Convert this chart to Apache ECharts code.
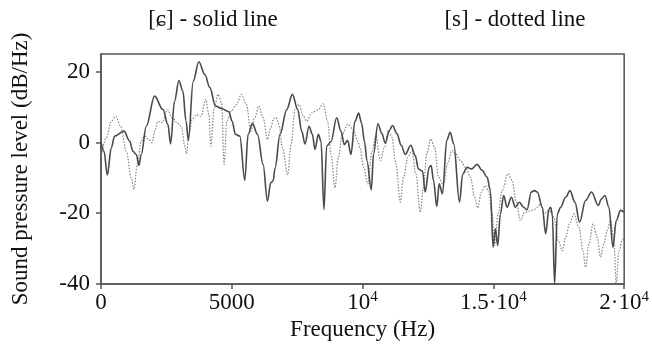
<!DOCTYPE html>
<html>
<head>
<meta charset="utf-8">
<script src="https://cdn.jsdelivr.net/npm/echarts@6/dist/echarts.min.js"></script>
<style>
  html, body { margin: 0; padding: 0; background: #fff; }
  #main { width: 652px; height: 347px; }
</style>
</head>
<body>
<div id="main"></div>
<script>
// spectrum of [ɕ] (solid) and [s] (dotted)
var solidFreq = [0, 115, 242, 394, 522, 878, 1094, 1221, 1349, 1450, 1539, 1730, 2049, 2367, 2557, 2660, 2812, 2977, 3130, 3250, 3340,
    3524, 3741, 3970, 4161, 4377, 4607, 4886, 5012, 5140, 5306, 5497, 5624, 5790, 5981, 6196, 6363, 6489, 6578, 6655, 6844,
    7100, 7317, 7519, 7672, 7799, 7952, 8080, 8180, 8309, 8410, 8524, 8627, 8792, 9009, 9173, 9302, 9428, 9555, 9707, 9850,
    9960, 10080, 10165, 10332, 10420, 10585, 10737, 10867, 11020, 11145, 11310, 11477, 11630, 11845, 12012, 12138, 12290,
    12393, 12546, 12622, 12710, 12837, 12928, 13054, 13218, 13348, 13485, 13703, 13829, 13997, 14161, 14379, 14569, 14760,
    14886, 14989, 15077, 15165, 15268, 15394, 15523, 15688, 15840, 15993, 16157, 16287, 16451, 16577, 16680, 16871, 16998,
    17127, 17188, 17253, 17341, 17444, 17570, 17761, 17929, 18120, 18295, 18524, 18753, 19009, 19135, 19265, 19417, 19570,
    19696, 19860, 20000];
var solidDb = [0.2, -2.5, -9.2, -1.5, 1.8, 3.2, 0.4, -2.5, -3.4, -6.5, -3.4, 4.6, 13.1, 9.3, 5.1, -0.4, 11.7, 17.5, 14.5, 6.0, 0.6,
    17.3, 22.8, 19.2, 15.5, 10.3, 9.6, 8.7, 6.0, 2.3, 1.8, -10.7, 2.3, 5.4, 2.3, -6.2, -16.6, -11.4, -10.9, -7.2, 2.3,
    9.3, 13.6, 9.3, 3.2, -0.4, 4.6, 2.3, -2.0, 2.3, 0.4, -19.0, -1.0, 0.2, 7.0, 3.2, -0.6, 0.6, -3.4, 6.0, 8.3,
    5.5, 0, -5.1, -13.4, -3.2, 5.3, 2.5, -0.2, 3.4, 4.8, 2.5, -0.8, -3.4, -0.8, -3.7, -7.5, -8.1,
    -14.0, -7.0, -6.5, -10.7, -18.1, -11.7, -14.5, 0.6, 2.9, -0.4, -16.9, -8.9, -7.0, -7.5, -6.2, -7.9, -9.8,
    -13.6, -29.6, -24.4, -29.1, -20.2, -15.0, -18.3, -15.5, -18.3, -16.9, -18.3, -19.0, -14.0, -13.6, -14.0, -18.3, -25.8,
    -18.8, -18.3, -20.2, -40, -20.2, -18.3, -15.5, -13.6, -16.9, -22.5, -16.4, -14.0, -17.8, -15.9, -15.0, -18.3, -29.6,
    -22.1, -19.2, -19.7];

var dottedFreq = [0, 202, 394, 560, 751, 966, 1157, 1260, 1386, 1539, 1667, 1821, 1947, 2074, 2176, 2328, 2557, 2710, 2913, 3065,
    3218, 3270, 3359, 3485, 3652, 3817, 4008, 4122, 4199, 4326, 4477, 4607, 4707, 4809, 4988, 5179, 5370, 5561, 5726, 5878,
    6031, 6196, 6363, 6489, 6600, 6700, 6806, 6935, 7138, 7264, 7417, 7570, 7737, 7863, 8054, 8309, 8500, 8664, 8792, 8944,
    9073, 9226, 9428, 9645, 9810, 9900, 10039, 10203, 10356, 10509, 10676, 10840, 10993, 11120, 11273, 11440, 11566, 11731,
    11884, 12036, 12203, 12329, 12455, 12608, 12749, 12901, 13092, 13245, 13418, 13550, 13741, 13932, 14123, 14287, 14402,
    14543, 14695, 14822, 14951, 15051, 15181, 15333, 15560, 15715, 15867, 16032, 16196, 16375, 16560, 16680, 16807, 16935,
    17127, 17317, 17482, 17635, 17761, 17914, 18082, 18272, 18425, 18524, 18654, 18807, 18970, 19096, 19226, 19352, 19478,
    19608, 19696, 19799, 19924, 20000];
var dottedDb = [-4.3, 1.3, 6.0, 7.4, 4.6, -2.5, -10.0, -13.3, -6.2, 0.4, 1.8, 0.85, -0.1, 3.7, 6.0, 5.6, 9.3, 7.0, 5.6, 4.6,
    -1.5, -3.2, 2.3, 6.5, 7.9, 7.4, 12.2, 7.9, -1.0, 9.8, 13.6, 11.2, -6.2, 6.0, 8.9, 10.7, 13.6, 10.7, 3.2, 7.0,
    10.3, 7.0, 0.85, 4.1, 6.8, 7.0, 5.1, -1.5, -9.1, -0.6, 9.3, 10.7, 7.4, 6.0, 8.4, 9.3, 10.9, 6.0, -3.4, -12.8,
    -4.3, 2.3, 5.1, 3.7, 0.4, -1.5, -7.0, -11.7, -2.7, 2.0, -5.1, -1.3, 3.4, 1.5, -6.0, -16.9, -9.8, -4.2,
    -2.3, -8.9, -19.7, -12.6, -3.2, 1.0, -1.3, -9.8, -12.0, -6.0, -2.2, -3.2, -5.1, -7.0, -9.8, -15.5, -18.5,
    -14.0, -12.2, -14.0, -20.2, -29.1, -20.2, -13.6, -8.8, -10.7, -16.4, -22.1, -19.7, -19.4, -19.0, -18.3, -17.3, -20.2,
    -19.2, -21.1, -27.7, -30.6, -26.8, -23.0, -20.2, -24.0, -30.6, -35.3, -28.7, -23.0, -26.8, -32.4, -28.7, -24.9, -22.1,
    -27.7, -40, -30.6, -27.7, -26.8];

var xTicks = [0, 5000, 10000, 15000, 20000];
var xTickLabels = ['0', '5000', '10^4', '1.5·10^4', '2·10^4'];
var yTicks = [-40, -20, 0, 20];

var serif = '"Liberation Serif", "DejaVu Serif", serif';

function pairs(xs, ys) {
    return xs.map(function (x, i) { return [x, ys[i]]; });
}

// "1.5·10^4" -> rich text with a raised exponent
function richLabel(s) {
    var k = s.indexOf('^');
    if (k < 0) return '{b|' + s + '}';
    return '{b|' + s.slice(0, k) + '}{s|' + s.slice(k + 1) + '}';
}

var chart = echarts.init(document.getElementById('main'));
chart.setOption({
    backgroundColor: '#fff',
    animation: false,
    grid: {
        left: 101, right: 27, top: 54, bottom: 63,
        show: true, borderColor: '#555', borderWidth: 1.5, backgroundColor: 'transparent'
    },
    graphic: [
        { type: 'text', x: 213, y: 20, style: { text: '[ɕ] - solid line', font: '23px ' + serif, fill: '#111', textAlign: 'center', textVerticalAlign: 'middle' } },
        { type: 'text', x: 515, y: 20, style: { text: '[s] - dotted line', font: '23px ' + serif, fill: '#111', textAlign: 'center', textVerticalAlign: 'middle' } }
    ],
    xAxis: {
        type: 'value', min: 0, max: 20000, interval: 5000,
        name: 'Frequency (Hz)', nameLocation: 'middle', nameGap: 30,
        nameTextStyle: { fontFamily: serif, fontSize: 23, color: '#111' },
        axisLine: { show: true, onZero: false, lineStyle: { color: '#555', width: 1.5 } },
        axisTick: { show: true, length: 5, lineStyle: { color: '#555', width: 1.5 }, customValues: xTicks },
        splitLine: { show: false },
        axisLabel: {
            margin: 6, customValues: xTicks,
            formatter: function (v) { return richLabel(xTickLabels[xTicks.indexOf(v)]); },
            rich: {
                b: { fontFamily: serif, fontSize: 23, color: '#111', lineHeight: 25 },
                s: { fontFamily: serif, fontSize: 15, color: '#111', lineHeight: 12, verticalAlign: 'top' }
            }
        }
    },
    yAxis: {
        type: 'value', min: -40, max: 25, interval: 20,
        name: 'Sound pressure level (dB/Hz)', nameLocation: 'middle', nameGap: 69,
        nameTextStyle: { fontFamily: serif, fontSize: 23, color: '#111' },
        axisLine: { show: true, onZero: false, lineStyle: { color: '#555', width: 1.5 } },
        axisTick: { show: true, length: 5, lineStyle: { color: '#555', width: 1.5 }, customValues: yTicks },
        splitLine: { show: false },
        axisLabel: { margin: 11, customValues: yTicks, fontFamily: serif, fontSize: 23, color: '#111' }
    },
    series: [
        {
            name: 'solid', type: 'line', data: pairs(solidFreq, solidDb),
            showSymbol: false, smooth: 0.35, smoothMonotone: 'x', clip: true,
            lineStyle: { color: '#4a4a4a', width: 1.6 }, z: 3
        },
        {
            name: 'dotted', type: 'line', data: pairs(dottedFreq, dottedDb),
            showSymbol: false, smooth: 0.35, smoothMonotone: 'x', clip: true,
            lineStyle: { color: '#858585', width: 1.2, type: [1.5, 1.5] }, z: 2
        }
    ]
});
</script>
</body>
</html>
